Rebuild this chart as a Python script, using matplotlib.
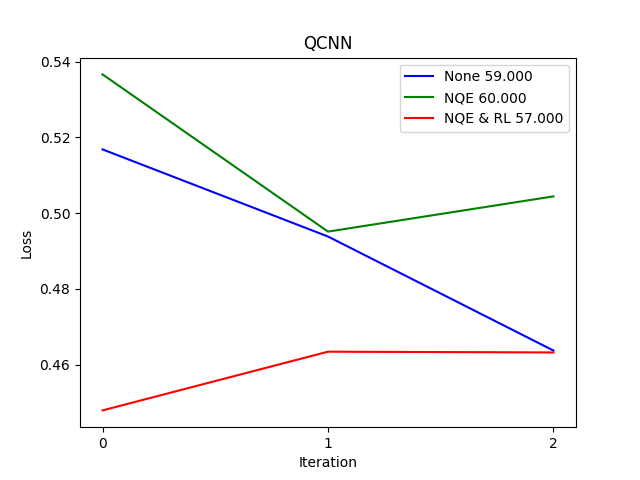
import matplotlib
matplotlib.use("Agg")
import matplotlib.pyplot as plt

iterations = [0, 1, 2]
loss_none = [0.5168, 0.4938, 0.4637]
loss_nqe = [0.5366, 0.4951, 0.5044]
loss_nqe_rl = [0.4479, 0.4634, 0.4632]
labels = ["None 59.000", "NQE 60.000", "NQE & RL 57.000"]
colors = ["blue", "green", "red"]

fig, ax = plt.subplots(figsize=(6.4, 4.8), dpi=100)
for ys, lab, c in zip([loss_none, loss_nqe, loss_nqe_rl], labels, colors):
    ax.plot(iterations, ys, color=c, label=lab)
ax.set_title("QCNN")
ax.set_xlabel("Iteration")
ax.set_ylabel("Loss")
ax.set_xticks(iterations)
ax.legend(loc="upper right")
fig.savefig("out.png")
